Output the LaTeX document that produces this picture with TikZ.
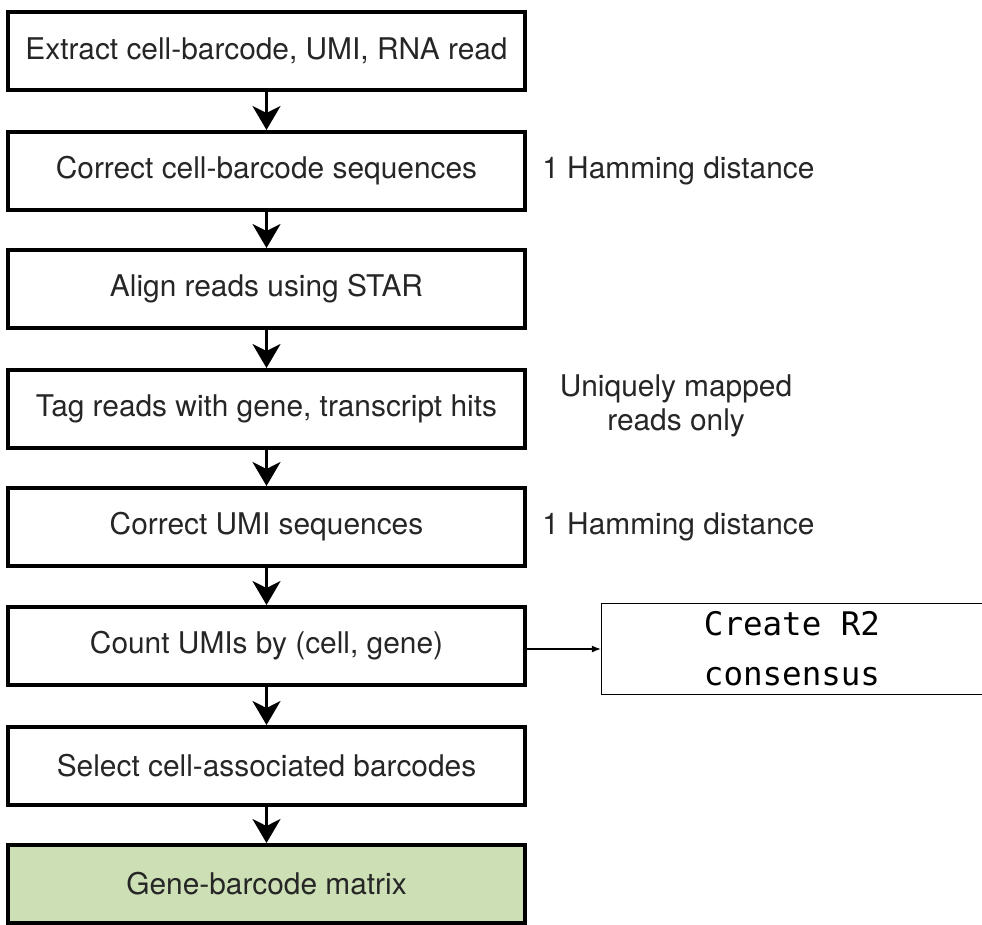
\documentclass[tikz,border=0pt]{standalone}
\usepackage{fontspec}
\setmainfont{TeX Gyre Heros}
\newfontfamily\monofont{DejaVu Sans Mono}
\usetikzlibrary{arrows.meta,positioning}
\definecolor{matgreen}{RGB}{205,224,181}

\tikzset{
  stepbox/.style={draw, line width=0.08cm, minimum width=10.34cm, minimum height=1.56cm,
    text=black!85, font=\fontsize{17}{19}\selectfont},
  flow/.style={line width=0.06cm, -{Stealth[length=0.48cm, width=0.56cm, inset=0.14cm]}},
  note/.style={inner sep=0pt, text=black!85, font=\fontsize{17}{19}\selectfont, align=center},
  codebox/.style={draw, line width=0.026cm, minimum width=7.62cm, minimum height=1.82cm,
    align=center, font=\fontsize{18.5}{28.5}\monofont},
}

\begin{document}
\begin{tikzpicture}[x=0.02cm, y=-0.02cm]
  \useasboundingbox (0,0) rectangle (982,924);

  % main pipeline
  \node[stepbox] (extract) at (266.5, 51) {Extract cell-barcode, UMI, RNA read};
  \node[stepbox] (fixcb) at (266.5, 171) {Correct cell-barcode sequences};
  \node[stepbox] (align) at (266.5, 289) {Align reads using STAR};
  \node[stepbox] (tag) at (266.5, 409) {Tag reads with gene, transcript hits};
  \node[stepbox] (fixumi) at (266.5, 527) {Correct UMI sequences};
  \node[stepbox] (count) at (266.5, 646) {Count UMIs by (cell, gene)};
  \node[stepbox] (select) at (266.5, 766) {Select cell-associated barcodes};
  \node[stepbox, fill=matgreen] (genemat) at (266.5, 884) {Gene-barcode matrix};

  % notes on the right
  \node[note, anchor=west] (ham1) at (542, 171) {1 Hamming distance};
  \node[note] (uniq) at (676, 406) {Uniquely mapped\\reads only};
  \node[note, anchor=west] (ham2) at (542, 527) {1 Hamming distance};

  \node[codebox] (r2) at (792, 649) {Create R2\\consensus};

  \foreach \a/\b in {extract/fixcb, fixcb/align, align/tag, tag/fixumi,
                     fixumi/count, count/select, select/genemat}
    \draw[flow] (\a) -- (\b);

  \draw[line width=0.026cm, -{Latex[length=0.18cm, width=0.14cm]}] (count.east |- r2.west) -- (r2.west);
\end{tikzpicture}
\end{document}
